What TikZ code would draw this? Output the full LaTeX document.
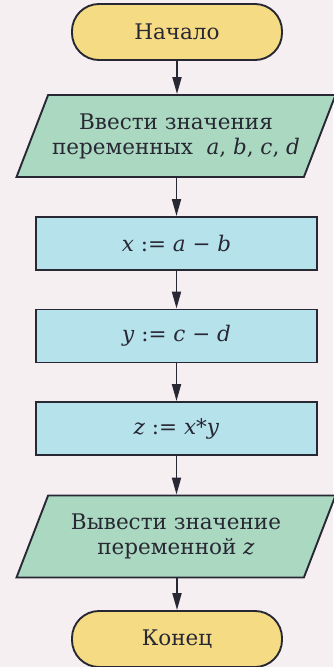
\documentclass[tikz,border=0pt]{standalone}
\usepackage{fontspec}
\setmainfont{DejaVu Serif}
\usetikzlibrary{arrows.meta,shapes.geometric}
\definecolor{bgc}{RGB}{246,239,241}
\definecolor{termc}{RGB}{245,220,132}
\definecolor{ioc}{RGB}{170,216,192}
\definecolor{procc}{RGB}{182,226,236}
\definecolor{linec}{RGB}{40,40,52}
\newcommand\vv[1]{\textit{#1}}
\tikzset{
  base/.style={draw=linec, line width=1.9pt, text=linec, font=\fontsize{21.5}{25}\selectfont, align=center, inner sep=0pt},
  term/.style={base, fill=termc, minimum width=210pt, minimum height=56pt, rounded corners=27pt},
  proc/.style={base, fill=procc, minimum width=281pt, minimum height=53pt},
  io/.style={base, fill=ioc, trapezium, trapezium left angle=55, trapezium right angle=125,
    trapezium stretches body, minimum width=319pt, minimum height=82pt},
  flow/.style={draw=linec, line width=1.9pt, -{Triangle[length=17pt,width=9pt]}}
}
\begin{document}
\begin{tikzpicture}[x=1pt,y=-1pt]
\useasboundingbox[fill=bgc] (0,0) rectangle (333,667);
\node[term] (start) at (177,32) {Начало};
\node[io] (in) at (176,136) {Ввести значения\\ переменных~ \vv{a}, \vv{b}, \vv{c}, \vv{d}};
\node[proc] (p1) at (176.5,243.5) {\vv{x} := \vv{a} − \vv{b}};
\node[proc] (p2) at (176.5,336) {\vv{y} := \vv{c} − \vv{d}};
\node[proc] (p3) at (176.5,428.5) {\vv{z} := \vv{x}*\vv{y}};
\node[io] (out) at (176,536.5) {Вывести значение\\ переменной \vv{z}};
\node[term] (end) at (177,639) {Конец};
\draw[flow] (start.south) -- (start.south |- in.north);
\draw[flow] (in.south -| p1.north) -- (p1.north);
\draw[flow] (p1) -- (p2);
\draw[flow] (p2) -- (p3);
\draw[flow] (p3.south) -- (p3.south |- out.north);
\draw[flow] (out.south -| end.north) -- (end.north);
\end{tikzpicture}
\end{document}
